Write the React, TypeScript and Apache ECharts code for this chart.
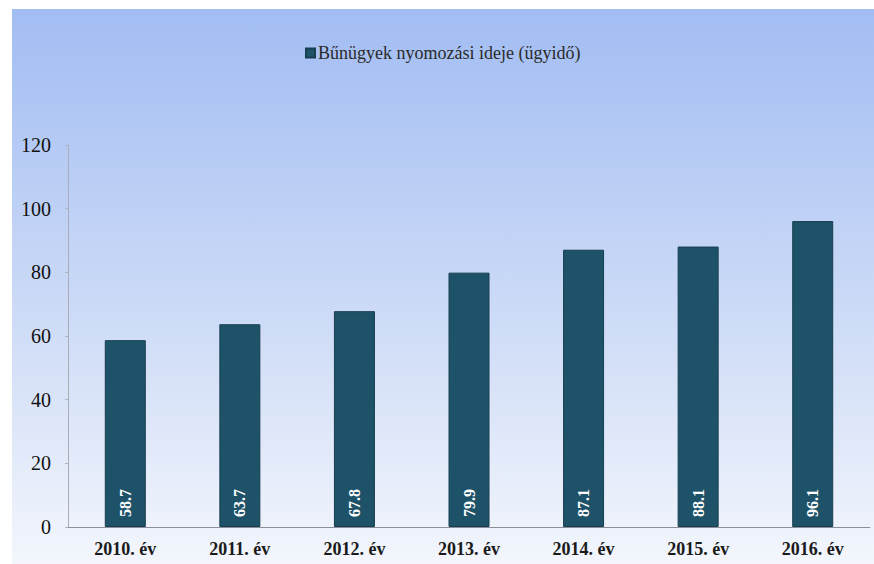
import React, { useEffect, useRef } from "react";
import * as echarts from "echarts";

const categories = ["2010. év", "2011. év", "2012. év", "2013. év", "2014. év", "2015. év", "2016. év"];
const values = [58.7, 63.7, 67.8, 79.9, 87.1, 88.1, 96.1];
const seriesName = "Bűnügyek nyomozási ideje (ügyidő)";

export default function App() {
  const ref = useRef<HTMLDivElement>(null);
  useEffect(() => {
    const chart = echarts.init(ref.current!, null, { renderer: "svg" });
    const serif = "'Liberation Serif', 'DejaVu Serif', serif";
    chart.setOption({
      animation: false,
      backgroundColor: "#ffffff",
      graphic: [
        {
          type: "rect",
          z: -10,
          silent: true,
          shape: { x: 12, y: 9, width: 862, height: 555 },
          style: {
            fill: new echarts.graphic.LinearGradient(0, 0, 0, 1, [
              { offset: 0, color: "#a2bdf3" },
              { offset: 0.5, color: "#c9d8f6" },
              { offset: 1, color: "#f3f6fc" },
            ]),
          },
        },
      ],
      legend: {
        top: 39,
        left: 300,
        itemWidth: 9,
        itemHeight: 9,
        itemGap: 4,
        icon: "rect",
        textStyle: { fontFamily: serif, fontSize: 18, color: "#2a2a2a", padding: [0, 0, 0, -2] },
        data: [seriesName],
      },
      grid: { left: 68, right: 4, top: 145, bottom: 37 },
      xAxis: {
        type: "category",
        data: categories,
        axisLine: { show: true, lineStyle: { color: "#8a8f99", width: 1 } },
        axisTick: { show: false },
        axisLabel: {
          fontFamily: serif,
          fontWeight: "bold",
          fontSize: 18,
          color: "#1a1a1a",
          margin: 13,
        },
      },
      yAxis: {
        type: "value",
        min: 0,
        max: 120,
        interval: 20,
        axisLine: { show: true, lineStyle: { color: "#a8adb8", width: 1 } },
        axisTick: { show: true, length: 3, lineStyle: { color: "#b0b5c0" } },
        splitLine: { show: false },
        axisLabel: {
          fontFamily: serif,
          fontSize: 20,
          color: "#111111",
          margin: 17,
        },
      },
      series: [
        {
          name: seriesName,
          type: "bar",
          data: values,
          barWidth: 41,
          itemStyle: { color: "#1e5268", borderColor: "#173f50", borderWidth: 1 },
          label: {
            show: true,
            position: "insideBottom",
            rotate: 90,
            align: "left",
            verticalAlign: "middle",
            distance: 10,
            color: "#ffffff",
            fontFamily: serif,
            fontWeight: "bold",
            fontSize: 16,
            formatter: (p: any) => p.value.toFixed(1),
          },
        },
      ],
    });
    return () => chart.dispose();
  }, []);
  return (
    <div
      ref={ref}
      style={{ position: "absolute", left: 0, top: 0, width: 874, height: 564 }}
    />
  );
}
